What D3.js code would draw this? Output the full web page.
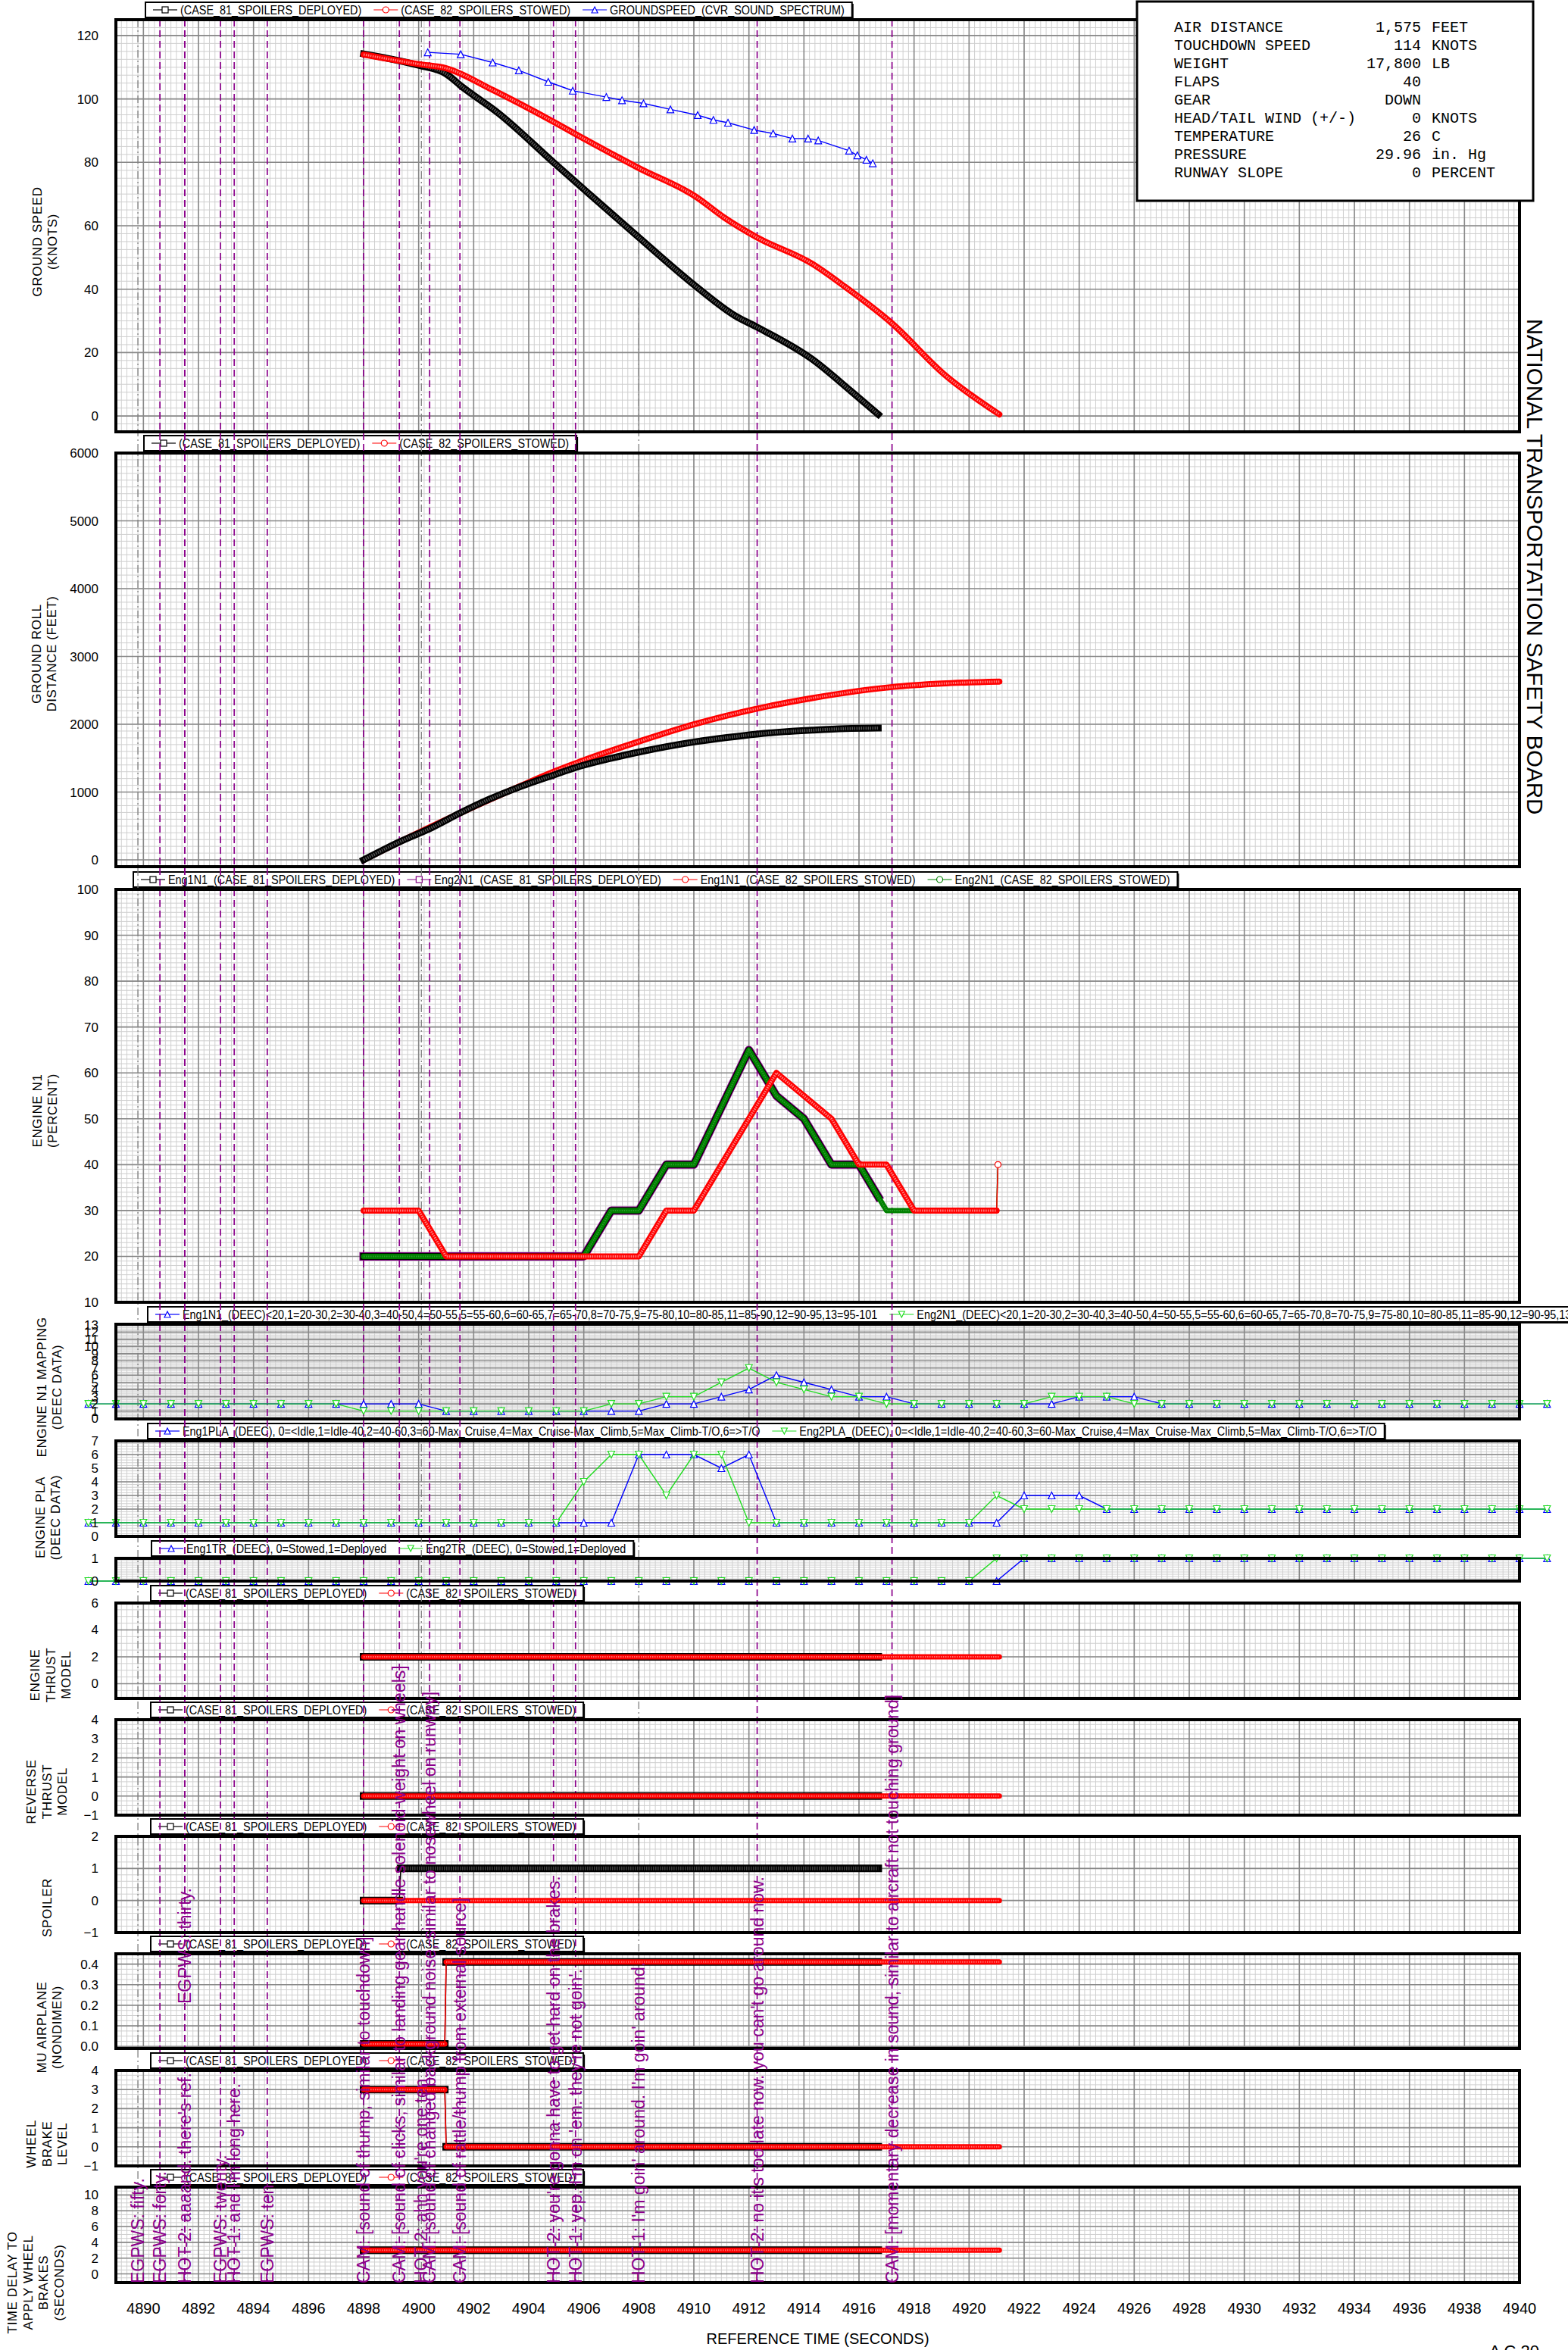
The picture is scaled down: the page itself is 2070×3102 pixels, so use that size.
<!DOCTYPE html>
<html>
<head>
<meta charset="utf-8">
<script src="https://cdn.jsdelivr.net/npm/d3@7"></script>
<style>
  body { margin: 0; background: #fff; }
  svg { display: block; }
  text { font-family: "Liberation Sans", Arial, sans-serif; }
  text.mono { font-family: "Liberation Mono", "Courier New", monospace; }
</style>
</head>
<body>
<div id="chart"></div>
<script>
// ---- data ----
var gsCase81 = [[4898.0,114.2],[4900.0,110.6],[4901.0,107.9],[4901.6,103.7],[4902.9,95.5],[4904.9,80.0],[4905.85,72.7],[4908.0,56.3],[4910.1,40.7],[4911.5,31.6],[4912.3,28.0],[4914.3,17.9],[4915.7,7.9],[4916.7,0.5]];
var gsCase82 = [[4898.0,114.0],[4900.0,111.0],[4901.0,109.7],[4902.7,102.8],[4904.9,92.8],[4905.85,88.2],[4908.0,78.2],[4910.1,69.0],[4911.1,62.6],[4912.3,56.3],[4914.3,48.0],[4915.5,40.7],[4917.2,29.2],[4919.1,13.1],[4921.1,0.5]];
var gsCvr = [[4900.33,114.7],[4901.53,114.1],[4902.69,111.5],[4903.64,109.0],[4904.71,105.4],[4905.60,102.6],[4906.82,100.6],[4907.39,99.6],[4908.17,98.6],[4909.15,96.7],[4910.14,94.9],[4910.71,93.4],[4911.24,92.5],[4912.19,90.2],[4912.88,89.1],[4913.58,87.5],[4914.15,87.5],[4914.52,86.9],[4915.64,83.7],[4915.94,82.2],[4916.27,80.8],[4916.50,79.7]];

var rollCase81 = [[4898,0],[4899.3,265],[4900.5,480],[4901.5,690],[4902.6,900],[4903.7,1080],[4904.9,1250],[4905.85,1380],[4907,1500],[4908,1590],[4909,1670],[4910.1,1745],[4911.2,1805],[4912.3,1856],[4913.3,1890],[4914.3,1913],[4915.5,1935],[4916.7,1944]];
var rollCase82 = [[4898,0],[4899.3,265],[4901.5,690],[4903.7,1090],[4904.9,1300],[4906,1470],[4908,1745],[4910.1,2010],[4912.3,2231],[4914.3,2386],[4917.2,2549],[4919,2600],[4921.1,2630]];

var n1Eng1Case81 = [[4898,20],[4906,20],[4907,30],[4908,30],[4909,40],[4910,40],[4912,65],[4913,55],[4914,50],[4915,40],[4916,40],[4916.7,33]];
var n1Eng2Case81 = [[4898,20],[4906,20],[4907,30],[4908,30],[4909,40],[4910,40],[4912,65],[4913,55],[4914,50],[4915,40],[4916,40],[4916.7,33]];
var n1Eng1Case82 = [[4898,30],[4900,30],[4901,20],[4908,20],[4909,30],[4910,30],[4911,40],[4912,50],[4913,60],[4915,50],[4916,40],[4917,40],[4918,30],[4921,30],[4921.05,40]];
var n1Eng2Case82 = [[4898,20],[4906,20],[4907,30],[4908,30],[4909,40],[4910,40],[4912,65],[4913,55],[4914,50],[4915,40],[4916,40],[4917,30],[4921,30],[4921.05,40]];

// DEEC samples, one per second from 4888 to 4941
var deecTimes = d3.range(4888, 4942);
var eng1N1Deec = [2,2,2,2,2,2,2,2,2,2,2,2,2, 1,1,1,1,1,1,1,1, 2,2,3,4,6,5,4,3,3,2, 2,2,2,2,2, 3,3,3, 2,2,2,2,2,2,2,2,2,2,2,2,2,2,2];
var eng2N1Deec = [2,2,2,2,2,2,2,2,2,2, 1,1,1,1,1,1,1,1,1, 2,2,3,3,5,7,5,4,3,3,2, 2,2,2,2,2, 3,3,3, 2,2,2,2,2,2,2,2,2,2,2,2,2,2,2,2];
var eng1PlaDeec = [1,1,1,1,1,1,1,1,1,1,1,1,1,1,1,1,1,1,1,1, 6,6,6,5,6, 1,1,1,1,1,1,1,1,1, 3,3,3, 2,2,2,2,2,2,2,2,2,2,2,2,2,2,2,2,2];
var eng2PlaDeec = [1,1,1,1,1,1,1,1,1,1,1,1,1,1,1,1,1,1, 4,6,6,3,6,6,1, 1,1,1,1,1,1,1,1, 3, 2,2,2,2,2,2,2,2,2,2,2,2,2,2,2,2,2,2,2,2];
var eng1TrDeec = [0,0,0,0,0,0,0,0,0,0,0,0,0,0,0,0,0,0,0,0,0,0,0,0,0,0,0,0,0,0,0,0,0,0, 1,1,1,1,1,1,1,1,1,1,1,1,1,1,1,1,1,1,1,1];
var eng2TrDeec = [0,0,0,0,0,0,0,0,0,0,0,0,0,0,0,0,0,0,0,0,0,0,0,0,0,0,0,0,0,0,0,0,0, 1,1,1,1,1,1,1,1,1,1,1,1,1,1,1,1,1,1,1,1,1];

var thrustCase81 = [[4898,2],[4916.7,2]];
var thrustCase82 = [[4898,2],[4921.1,2]];
var reverseCase81 = [[4898,0],[4916.7,0]];
var reverseCase82 = [[4898,0],[4921.1,0]];
var spoilerCase81 = [[4898,0],[4899.3,0],[4899.35,1],[4916.7,1]];
var spoilerCase82 = [[4898,0],[4921.1,0]];
var muCase81 = [[4898,0.012],[4900.95,0.012],[4901.0,0.41],[4916.7,0.41]];
var muCase82 = [[4898,0.012],[4900.95,0.012],[4901.0,0.41],[4921.1,0.41]];
var brakeCase81 = [[4898,3],[4900.95,3],[4901.0,0],[4916.7,0]];
var brakeCase82 = [[4898,3],[4900.95,3],[4901.0,0],[4921.1,0]];
var delayCase81 = [[4898,3],[4916.7,3]];
var delayCase82 = [[4898,3],[4921.1,3]];

var cvrTimes = [4889.8, 4890.6, 4891.5, 4891.5, 4892.8, 4893.3, 4894.5, 4898.0, 4899.3, 4900.1, 4900.4, 4901.5, 4904.9, 4905.7, 4908.0, 4912.3, 4917.2];
var cvrTexts = [
  "EGPWS: fifty.",
  "EGPWS: forty.",
  "HOT-2: aaaand. there's ref.",
  "EGPWS: thirty.",
  "EGPWS: twenty.",
  "HOT-1: and I'm long here.",
  "EGPWS: ten.",
  "CAM: [sound of thump, similar to touchdown]",
  "CAM: [sound of clicks, similar to landing gear handle solenoid weight on wheels]",
  "HOT-2: ahh you're one ten.",
  "CAM: [sound of changed background noise, similar to nosewheel on runway]",
  "CAM: [sound of rattle/thump from external source]",
  "HOT-2: you're gonna have to get hard on the brakes.",
  "HOT-1: yep. I'm on 'em. they're not goin'.",
  "HOT-1: I'm goin' around. I'm goin' around.",
  "HOT-2: no it's too late now. you can't go around now.",
  "CAM: [momentary decrease in sound, similar to aircraft not touching ground]"
];
var grayLineTimes = [4889.8, 4900.1, 4908.0];

var infoLabels = ["AIR DISTANCE", "TOUCHDOWN SPEED", "WEIGHT", "FLAPS", "GEAR", "HEAD/TAIL WIND (+/-)", "TEMPERATURE", "PRESSURE", "RUNWAY SLOPE"];
var infoValues = ["1,575", "114", "17,800", "40", "DOWN", "0", "26", "29.96", "0"];
var infoUnits = ["FEET", "KNOTS", "LB", "", "", "KNOTS", "C", "in. Hg", "PERCENT"];

var xTicks = d3.range(4890, 4941, 2);

// ---- layout ----
var width = 2070, height = 3102;
var X0 = 153, X1 = 2006;
var x = d3.scaleLinear().domain([4889, 4940]).range([X0, X1]);

var caseLegend = [
  {text: "(CASE_81_SPOILERS_DEPLOYED)", color: "#000", sym: "square"},
  {text: "(CASE_82_SPOILERS_STOWED)", color: "#f00", sym: "circle"}
];

var panels = [
  {top: 26, bottom: 570, domain: [-5, 125], ticks: d3.range(0, 121, 20), minor: 2.5, label: ["GROUND SPEED", "(KNOTS)"], lx: 59, ly: 319, legX: 192,
   legend: caseLegend.concat([{text: "GROUNDSPEED_(CVR_SOUND_SPECTRUM)", color: "#00f", sym: "triUp"}])},
  {top: 598, bottom: 1144, domain: [-100, 6000], ticks: d3.range(0, 6001, 1000), minor: 100, label: ["GROUND ROLL", "DISTANCE (FEET)"], lx: 58, ly: 863, legX: 190, legend: caseLegend},
  {top: 1174, bottom: 1719, domain: [10, 100], ticks: d3.range(10, 101, 10), minor: 1, label: ["ENGINE N1", "(PERCENT)"], lx: 59, ly: 1466, legX: 176,
   legend: [{text: "Eng1N1_(CASE_81_SPOILERS_DEPLOYED)", color: "#000", sym: "square"},
            {text: "Eng2N1_(CASE_81_SPOILERS_DEPLOYED)", color: "#800080", sym: "square"},
            {text: "Eng1N1_(CASE_82_SPOILERS_STOWED)", color: "#f00", sym: "circle"},
            {text: "Eng2N1_(CASE_82_SPOILERS_STOWED)", color: "#008000", sym: "circle"}]},
  {top: 1748, bottom: 1873, domain: [-0.1, 13.1], ticks: d3.range(0, 14), minor: 0.2, label: ["ENGINE N1 MAPPING", "(DEEC DATA)"], lx: 65, ly: 1831, legX: 195,
   legend: [{text: "Eng1N1_(DEEC)<20,1=20-30,2=30-40,3=40-50,4=50-55,5=55-60,6=60-65,7=65-70,8=70-75,9=75-80,10=80-85,11=85-90,12=90-95,13=95-101", color: "#00f", sym: "triUp"},
            {text: "Eng2N1_(DEEC)<20,1=20-30,2=30-40,3=40-50,4=50-55,5=55-60,6=60-65,7=65-70,8=70-75,9=75-80,10=80-85,11=85-90,12=90-95,13=95-101", color: "#2d2", sym: "triDown"}]},
  {top: 1902, bottom: 2028, domain: [0, 7], ticks: d3.range(0, 8), minor: 0.2, label: ["ENGINE PLA", "(DEEC DATA)"], lx: 63, ly: 2003, legX: 195,
   legend: [{text: "Eng1PLA_(DEEC), 0=<Idle,1=Idle-40,2=40-60,3=60-Max_Cruise,4=Max_Cruise-Max_Climb,5=Max_Climb-T/O,6=>T/O", color: "#00f", sym: "triUp"},
            {text: "Eng2PLA_(DEEC), 0=<Idle,1=Idle-40,2=40-60,3=60-Max_Cruise,4=Max_Cruise-Max_Climb,5=Max_Climb-T/O,6=>T/O", color: "#2d2", sym: "triDown"}]},
  {top: 2057, bottom: 2087, domain: [0, 1], ticks: [0, 1], minor: 0.1, label: null, legX: 200,
   legend: [{text: "Eng1TR_(DEEC), 0=Stowed,1=Deployed", color: "#00f", sym: "triUp"},
            {text: "Eng2TR_(DEEC), 0=Stowed,1=Deployed", color: "#2d2", sym: "triDown"}]},
  {top: 2116, bottom: 2242, domain: [-1.1, 6], ticks: [0, 2, 4, 6], minor: 0.5, label: ["ENGINE", "THRUST", "MODEL"], lx: 67, ly: 2211, legX: 199, legend: caseLegend},
  {top: 2270, bottom: 2396, domain: [-1, 4], ticks: d3.range(-1, 5), minor: 0.25, label: ["REVERSE", "THRUST", "MODEL"], lx: 62, ly: 2365, legX: 199, legend: caseLegend},
  {top: 2424, bottom: 2551, domain: [-1, 2], ticks: [-1, 0, 1, 2], minor: 0.2, label: ["SPOILER"], lx: 62, ly: 2518, legX: 199, legend: caseLegend},
  {top: 2579, bottom: 2704, domain: [-0.01, 0.45], ticks: [0, 0.1, 0.2, 0.3, 0.4], fmt: ".1f", minor: 0.025, label: ["MU AIRPLANE", "(NONDIMEN)"], lx: 65, ly: 2676, legX: 199, legend: caseLegend},
  {top: 2733, bottom: 2859, domain: [-1, 4], ticks: d3.range(-1, 5), minor: 0.25, label: ["WHEEL", "BRAKE", "LEVEL"], lx: 62, ly: 2830, legX: 199, legend: caseLegend},
  {top: 2887, bottom: 3013, domain: [-1.1, 11], ticks: d3.range(0, 11, 2), minor: 0.5, label: ["TIME DELAY TO", "APPLY WHEEL", "BRAKES", "(SECONDS)"], lx: 47, ly: 3013, legX: 199, legend: caseLegend}
];
panels.forEach(function(p) {
  p.y = d3.scaleLinear().domain(p.domain).range([p.bottom, p.top]);
});

var svg = d3.select('#chart').append('svg')
  .attr('width', width)
  .attr('height', height);
svg.append('rect').attr('width', width).attr('height', height).attr('fill', '#fff');

var gridLayer = svg.append('g');
var legendLayer = svg.append('g');
var cvrLineLayer = svg.append('g');
var dataLayer = svg.append('g');
var frameLayer = svg.append('g');
var textLayer = svg.append('g');
var cvrTextLayer = svg.append('g');

// ---- grid ----
var minorTimes = d3.range(0, 256).map(function(i) { return 4889 + i * 0.2; });
panels.forEach(function(p) {
  var g = gridLayer.append('g');
  g.append('rect').attr('x', X0).attr('y', p.top).attr('width', X1 - X0).attr('height', p.bottom - p.top).attr('fill', '#fff');
  g.selectAll(null).data(minorTimes).enter().append('line')
    .attr('x1', function(d) { return x(d); }).attr('x2', function(d) { return x(d); })
    .attr('y1', p.top).attr('y2', p.bottom)
    .attr('stroke', '#cfcfcf').attr('stroke-width', 1);
  var start = Math.ceil(p.domain[0] / p.minor - 1e-9);
  var n = Math.floor(p.domain[1] / p.minor + 1e-9);
  var hv = d3.range(start, n + 1).map(function(i) { return i * p.minor; });
  g.selectAll(null).data(hv).enter().append('line')
    .attr('x1', X0).attr('x2', X1)
    .attr('y1', function(d) { return p.y(d); }).attr('y2', function(d) { return p.y(d); })
    .attr('stroke', '#cfcfcf').attr('stroke-width', 1);
  g.selectAll(null).data(xTicks).enter().append('line')
    .attr('x1', function(d) { return x(d); }).attr('x2', function(d) { return x(d); })
    .attr('y1', p.top).attr('y2', p.bottom)
    .attr('stroke', '#888').attr('stroke-width', 1.6);
  g.selectAll(null).data(p.ticks).enter().append('line')
    .attr('x1', X0).attr('x2', X1)
    .attr('y1', function(d) { return p.y(d); }).attr('y2', function(d) { return p.y(d); })
    .attr('stroke', '#888').attr('stroke-width', 1.6);

  frameLayer.append('rect').attr('x', X0).attr('y', p.top).attr('width', X1 - X0).attr('height', p.bottom - p.top)
    .attr('fill', 'none').attr('stroke', '#000').attr('stroke-width', 4);

  // y tick labels
  var fmt = p.fmt ? d3.format(p.fmt) : d3.format('d');
  textLayer.selectAll(null).data(p.ticks).enter().append('text')
    .attr('x', 130).attr('y', function(d) { return p.y(d) + 6; })
    .attr('text-anchor', 'end').attr('font-size', 17)
    .text(function(d) { return fmt(d); });

  // y axis title
  if (p.label) {
    var nl = p.label.length;
    p.label.forEach(function(s, i) {
      var lx = p.lx + (i - (nl - 1) / 2) * 20.5;
      textLayer.append('text')
        .attr('transform', 'translate(' + lx + ',' + p.ly + ') rotate(-90)')
        .attr('text-anchor', 'middle').attr('dy', '0.35em')
        .attr('font-size', 17).attr('letter-spacing', 0.6)
        .text(s);
    });
  }
});

// ---- markers ----
function marker(g, sym, cx, cy, color, size) {
  if (sym === 'square') {
    g.append('rect').attr('x', cx - size / 2).attr('y', cy - size / 2).attr('width', size).attr('height', size)
      .attr('fill', '#fff').attr('stroke', color).attr('stroke-width', 1.2);
  } else if (sym === 'circle') {
    g.append('circle').attr('cx', cx).attr('cy', cy).attr('r', size / 2)
      .attr('fill', '#fff').attr('stroke', color).attr('stroke-width', 1.2);
  } else {
    var h = size;
    var d = sym === 'triUp'
      ? 'M' + cx + ',' + (cy - h / 2) + 'L' + (cx + h / 2) + ',' + (cy + h / 2) + 'L' + (cx - h / 2) + ',' + (cy + h / 2) + 'Z'
      : 'M' + cx + ',' + (cy + h / 2) + 'L' + (cx + h / 2) + ',' + (cy - h / 2) + 'L' + (cx - h / 2) + ',' + (cy - h / 2) + 'Z';
    g.append('path').attr('d', d).attr('fill', '#fff').attr('stroke', color).attr('stroke-width', 1.2);
  }
}

// ---- legends ----
function drawLegend(x0, y0, items) {
  var g = legendLayer.append('g');
  var shadow = g.append('rect').attr('x', x0 + 2).attr('y', y0 + 2).attr('height', 20).attr('fill', '#000');
  var box = g.append('rect').attr('x', x0).attr('y', y0).attr('height', 20)
    .attr('fill', '#fff').attr('stroke', '#000').attr('stroke-width', 2);
  var cx = x0 + 10;
  var my = y0 + 10;
  items.forEach(function(it) {
    g.append('line').attr('x1', cx).attr('x2', cx + 32).attr('y1', my).attr('y2', my)
      .attr('stroke', it.color).attr('stroke-width', 1.2);
    marker(g, it.sym, cx + 16, my, it.color, 8);
    var t = g.append('text').attr('x', cx + 36).attr('y', my + 5.5).attr('font-size', 16).text(it.text);
    var len = t.node().getComputedTextLength() * 0.9;
    t.attr('textLength', len).attr('lengthAdjust', 'spacingAndGlyphs');
    cx += 36 + len + 16;
  });
  var w = cx - 16 + 10 - x0;
  box.attr('width', w);
  shadow.attr('width', w);
}
panels.forEach(function(p) {
  drawLegend(p.legX, p.top - 23, p.legend);
});

// ---- CVR annotation lines ----
cvrLineLayer.selectAll(null).data(cvrTimes).enter().append('line')
  .attr('x1', function(d) { return x(d); }).attr('x2', function(d) { return x(d); })
  .attr('y1', 26).attr('y2', 3013)
  .attr('stroke', function(d) { return grayLineTimes.indexOf(d) >= 0 ? '#808080' : '#8b008b'; })
  .attr('stroke-width', function(d) { return grayLineTimes.indexOf(d) >= 0 ? 1.3 : 1.7; })
  .attr('stroke-dasharray', function(d) { return grayLineTimes.indexOf(d) >= 0 ? '10,4,2,4' : '9,5'; });

// ---- series drawing ----
function band(p, data, color, inner, w, cap, curve) {
  var line = d3.line().x(function(d) { return x(d[0]); }).y(function(d) { return p.y(d[1]); })
    .curve(curve || d3.curveLinear);
  var g = dataLayer.append('g');
  var runs = [[data[0]]];
  for (var i = 1; i < data.length; i++) {
    if (data[i][0] - data[i - 1][0] < 0.2) runs.push([data[i]]);
    else runs[runs.length - 1].push(data[i]);
  }
  if (runs.length > 1) {
    g.append('path').datum(data).attr('d', d3.line().x(function(d) { return x(d[0]); }).y(function(d) { return p.y(d[1]); }))
      .attr('fill', 'none').attr('stroke', color).attr('stroke-width', 1.5);
  }
  runs.forEach(function(r) {
    if (r.length === 1) {
      marker(g, cap === 'square' ? 'square' : 'circle', x(r[0][0]), p.y(r[0][1]), color, w);
      return;
    }
    g.append('path').datum(r).attr('d', line).attr('fill', 'none')
      .attr('stroke', color).attr('stroke-width', w).attr('stroke-linecap', cap).attr('stroke-linejoin', 'round');
    if (inner) {
      g.append('path').datum(r).attr('d', line).attr('fill', 'none')
        .attr('stroke', inner).attr('stroke-width', Math.max(1, w - 5)).attr('stroke-dasharray', '1.5,1.5');
    }
  });
}

function markedLine(p, data, color, sym, size) {
  var line = d3.line().x(function(d) { return x(d[0]); }).y(function(d) { return p.y(d[1]); });
  var g = dataLayer.append('g');
  g.append('path').datum(data).attr('d', line).attr('fill', 'none').attr('stroke', color).attr('stroke-width', 1.4);
  return function() {
    data.forEach(function(d) { marker(g, sym, x(d[0]), p.y(d[1]), color, size); });
  };
}

function deecSeries(values) {
  return deecTimes.map(function(t, i) { return [t, values[i]]; });
}

// ground speed
band(panels[0], gsCase81, '#000', '#555', 9, 'square', d3.curveMonotoneX);
band(panels[0], gsCase82, '#f00', '#ff8080', 8, 'round', d3.curveMonotoneX);
markedLine(panels[0], gsCvr, '#00f', 'triUp', 9)();

// ground roll
band(panels[1], rollCase82, '#f00', '#ff8080', 8, 'round', d3.curveMonotoneX);
band(panels[1], rollCase81, '#000', '#555', 9, 'square', d3.curveMonotoneX);

// engine N1
band(panels[2], n1Eng2Case81, '#800080', null, 11, 'square');
band(panels[2], n1Eng1Case81, '#000', null, 9, 'square');
band(panels[2], n1Eng2Case82, '#008000', '#2a9a2a', 7, 'round');
band(panels[2], n1Eng1Case82, '#f00', '#ff8080', 8, 'round');

// DEEC panels
[[3, eng1N1Deec, eng2N1Deec], [4, eng1PlaDeec, eng2PlaDeec], [5, eng1TrDeec, eng2TrDeec]].forEach(function(s) {
  var p = panels[s[0]];
  var m1 = markedLine(p, deecSeries(s[1]), '#00f', 'triUp', 9);
  var m2 = markedLine(p, deecSeries(s[2]), '#2d2', 'triDown', 9);
  m2();
  m1();
});

// model step panels
[[6, thrustCase81, thrustCase82], [7, reverseCase81, reverseCase82], [8, spoilerCase81, spoilerCase82],
 [9, muCase81, muCase82], [10, brakeCase81, brakeCase82], [11, delayCase81, delayCase82]].forEach(function(s) {
  var p = panels[s[0]];
  band(p, s[1], '#000', '#444', 10, 'square');
  band(p, s[2], '#f00', '#ff7070', 7, 'round');
});

// ---- x axis ----
textLayer.selectAll(null).data(xTicks).enter().append('text')
  .attr('x', function(d) { return x(d); }).attr('y', 3054)
  .attr('text-anchor', 'middle').attr('font-size', 20)
  .text(function(d) { return d; });
textLayer.append('text').attr('x', (X0 + X1) / 2).attr('y', 3094)
  .attr('text-anchor', 'middle').attr('font-size', 20).text('REFERENCE TIME (SECONDS)');
textLayer.append('text').attr('x', 1966).attr('y', 3111).attr('font-size', 22).text('A C 20');

// ---- side title ----
textLayer.append('text')
  .attr('transform', 'translate(2026,748) rotate(90)')
  .attr('text-anchor', 'middle').attr('dy', '0.35em')
  .attr('font-size', 29.5)
  .text('NATIONAL TRANSPORTATION SAFETY BOARD');

// ---- info box ----
var info = textLayer.append('g');
info.append('rect').attr('x', 1501).attr('y', 2).attr('width', 523).attr('height', 263)
  .attr('fill', '#fff').attr('stroke', '#000').attr('stroke-width', 3);
infoLabels.forEach(function(s, i) {
  var yy = 42 + i * 24;
  info.append('text').attr('class', 'mono').attr('x', 1550).attr('y', yy).attr('font-size', 20).text(s);
  info.append('text').attr('class', 'mono').attr('x', 1876).attr('y', yy).attr('text-anchor', 'end').attr('font-size', 20).text(infoValues[i]);
  if (infoUnits[i]) {
    info.append('text').attr('class', 'mono').attr('x', 1890).attr('y', yy).attr('font-size', 20).text(infoUnits[i]);
  }
});

// ---- CVR annotation texts ----
cvrTexts.forEach(function(s, i) {
  var base = s === "EGPWS: thirty." ? 2645 : 3014;
  cvrTextLayer.append('text')
    .attr('transform', 'translate(' + x(cvrTimes[i]) + ',' + base + ') rotate(-90)')
    .attr('dy', '0.35em')
    .attr('font-size', 23)
    .attr('fill', '#8b008b')
    .text(s);
});
</script>
</body>
</html>
